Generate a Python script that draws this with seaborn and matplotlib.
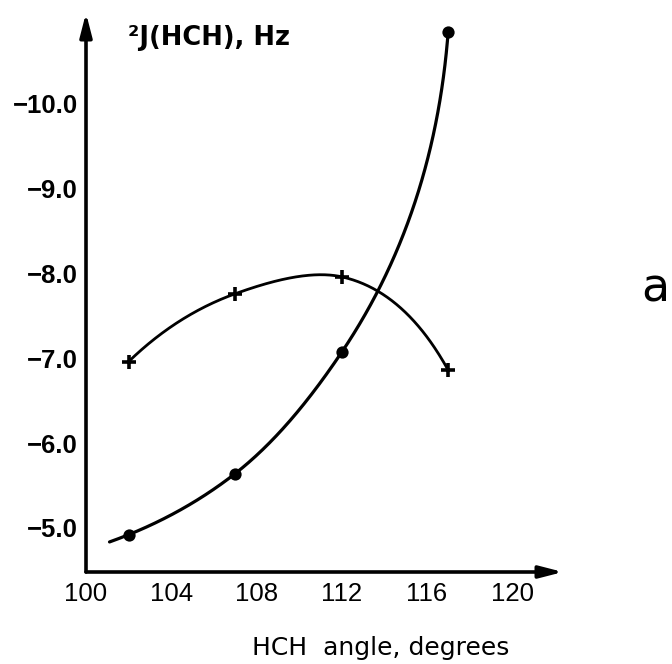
import numpy as np
import matplotlib
matplotlib.use("Agg")
import matplotlib.pyplot as plt
import seaborn as sns

# HCH angle (degrees) and geminal coupling constants 2J(HCH) in Hz
angles = np.array([102.0, 107.0, 112.0, 117.0])
j_dots = np.array([-4.92, -5.64, -7.07, -10.85])
j_crosses = np.array([-6.96, -7.76, -7.96, -6.86])

x_ticks = [100, 104, 108, 112, 116, 120]
x_tick_labels = ["100", "104", "108", "112", "116", "120"]
y_ticks = [-5.0, -6.0, -7.0, -8.0, -9.0, -10.0]
y_tick_labels = ["\u22125.0", "\u22126.0", "\u22127.0", "\u22128.0", "\u22129.0", "\u221210.0"]
y_minor_ticks = [-5.5, -6.5, -7.5, -8.5, -9.5, -10.5]


def smooth_path(ax, xs, ys, lead_in=0.0, n=120):
    """French-curve style path through the points.

    Parametric cubic Hermite in display space, chord-length parameter,
    three-point (Bessel) tangents. Returns data coordinates.
    """
    p = ax.transData.transform(np.column_stack([xs, ys]))
    seg = np.diff(p, axis=0)
    L = np.hypot(seg[:, 0], seg[:, 1])
    s = seg / L[:, None]
    m = len(p)
    T = np.zeros_like(p)
    for k in range(1, m - 1):
        T[k] = (L[k] * s[k - 1] + L[k - 1] * s[k]) / (L[k - 1] + L[k])
    T[0] = ((2 * L[0] + L[1]) * s[0] - L[0] * s[1]) / (L[0] + L[1])
    T[-1] = ((2 * L[-1] + L[-2]) * s[-1] - L[-1] * s[-2]) / (L[-1] + L[-2])

    pieces = []
    for k in range(m - 1):
        t0 = -lead_in if k == 0 else 0.0
        t = np.linspace(t0, 1.0, n)[:, None]
        h00 = 2 * t**3 - 3 * t**2 + 1
        h10 = t**3 - 2 * t**2 + t
        h01 = -2 * t**3 + 3 * t**2
        h11 = t**3 - t**2
        c = h00 * p[k] + h10 * L[k] * T[k] + h01 * p[k + 1] + h11 * L[k] * T[k + 1]
        pieces.append(c if k == 0 else c[1:])
    curve = np.vstack(pieces)
    return ax.transData.inverted().transform(curve)


sns.set_theme(style="white")
plt.rcParams["font.family"] = ["Liberation Sans", "DejaVu Sans"]
plt.rcParams["text.color"] = "black"
plt.rcParams["xtick.color"] = "black"
plt.rcParams["ytick.color"] = "black"
plt.rcParams["axes.unicode_minus"] = True

fig = plt.figure(figsize=(6.72, 6.64), dpi=100)
ax = fig.add_axes([86 / 672, 92 / 664, 477 / 672, 559 / 664])
ax.set_xlim(100, 122.39)
ax.set_ylim(-4.48, -11.07)

# Dots curve, with a short lead-in before the first point
dots_path = smooth_path(ax, angles, j_dots, lead_in=0.16)
sns.lineplot(x=dots_path[:, 0], y=dots_path[:, 1], sort=False, estimator=None,
             color="black", linewidth=2.3, ax=ax)

# Crosses curve
cross_path = smooth_path(ax, angles, j_crosses)
sns.lineplot(x=cross_path[:, 0], y=cross_path[:, 1], sort=False, estimator=None,
             color="black", linewidth=2.0, ax=ax)

sns.scatterplot(x=angles, y=j_dots, marker="o", s=78, color="black",
                linewidth=0, ax=ax, zorder=4)
sns.scatterplot(x=angles, y=j_crosses, marker="+", s=110, color="black",
                linewidth=2.6, ax=ax, zorder=4)

ax.set_xlim(100, 122.39)
ax.set_ylim(-4.48, -11.07)

ax.set_xticks(x_ticks)
ax.set_xticklabels(x_tick_labels, fontsize=18.5)
ax.set_yticks(y_ticks)
ax.set_yticklabels(y_tick_labels, fontsize=18.5, fontweight="bold")
ax.set_yticks(y_minor_ticks, minor=True)
ax.tick_params(axis="both", which="both", direction="in", length=7,
               width=1.8, color="black", labelcolor="black")
ax.tick_params(axis="x", pad=7)
ax.tick_params(axis="y", which="major", pad=6)
ax.set_xlabel("")
ax.set_ylabel("")
sns.despine(ax=ax, left=True, bottom=True)
ax.grid(False)

# Axes drawn as arrows
arrow_kw = dict(arrowstyle="-|>,head_length=0.7,head_width=0.18", lw=2.6,
                color="black", shrinkA=0, shrinkB=0, mutation_scale=20)
ax.annotate("", xy=(0, 1), xytext=(0, 0), xycoords="axes fraction",
            textcoords="axes fraction", arrowprops=arrow_kw, annotation_clip=False)
ax.annotate("", xy=(1, 0), xytext=(0, 0), xycoords="axes fraction",
            textcoords="axes fraction", arrowprops=arrow_kw, annotation_clip=False)

fig.text(128 / 672, 1 - 45 / 664, "\u00b2J(HCH), Hz", family="DejaVu Sans",
         fontsize=18.5, fontweight="bold", color="black", ha="left", va="baseline")
fig.text(381 / 672, 9 / 664, "HCH  angle, degrees", family="DejaVu Sans",
         fontsize=18, color="black", ha="center", va="baseline")
fig.text(655 / 672, 1 - 302 / 664, "a", family="DejaVu Sans",
         fontsize=33, color="black", ha="center", va="baseline")

fig.savefig("out.png", dpi=100)
